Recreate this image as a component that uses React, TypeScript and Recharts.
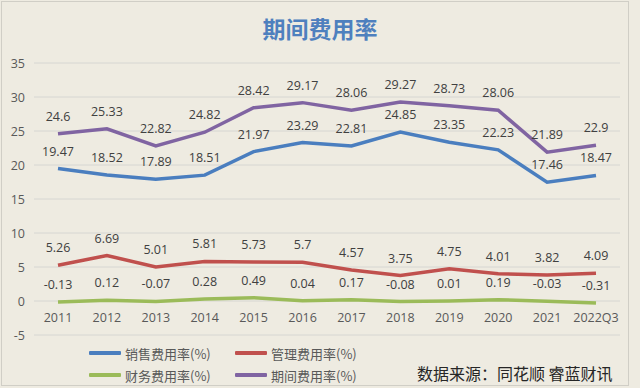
import React from 'react';
import { LineChart, Line, XAxis, YAxis, CartesianGrid, LabelList } from 'recharts';

const categories = ['2011', '2012', '2013', '2014', '2015', '2016', '2017', '2018', '2019', '2020', '2021', '2022Q3'];
const sales = [19.47, 18.52, 17.89, 18.51, 21.97, 23.29, 22.81, 24.85, 23.35, 22.23, 17.46, 18.47];
const admin = [5.26, 6.69, 5.01, 5.81, 5.73, 5.7, 4.57, 3.75, 4.75, 4.01, 3.82, 4.09];
const finance = [-0.13, 0.12, -0.07, 0.28, 0.49, 0.04, 0.17, -0.08, 0.01, 0.19, -0.03, -0.31];
const period = [24.6, 25.33, 22.82, 24.82, 28.42, 29.17, 28.06, 29.27, 28.73, 28.06, 21.89, 22.9];
const yTicks = [-5, 0, 5, 10, 15, 20, 25, 30, 35];

const seriesNames = ['销售费用率(%)', '管理费用率(%)', '财务费用率(%)', '期间费用率(%)'];
const colors = ['#4A7EBF', '#C0504D', '#9BBB59', '#8064A2'];

const data = categories.map((c, i) => ({
  name: c,
  sales: sales[i],
  admin: admin[i],
  finance: finance[i],
  period: period[i],
}));

const keys = ['sales', 'admin', 'finance', 'period'];

const labelFont = "'Open Sans', 'Noto Sans', sans-serif";

const XTick = (props: any) => {
  const { x, y, payload } = props;
  return (
    <text x={x} y={y} dy={-21} textAnchor="middle" fill="#595959" fontSize={12.5} fontFamily={labelFont}>
      {payload.value}
    </text>
  );
};

const YTick = (props: any) => {
  const { x, y, payload } = props;
  return (
    <text x={x} y={y} dy={4.5} textAnchor="end" fill="#595959" fontSize={12.5} fontFamily={labelFont}>
      {payload.value}
    </text>
  );
};

const LegendItem = ({ color, text, left, top }: any) => (
  <div style={{ position: 'absolute', left, top, display: 'flex', alignItems: 'center', height: 18 }}>
    <div style={{ width: 32, height: 3.5, background: color, marginRight: 4, borderRadius: 1 }} />
    <span style={{ fontSize: 13, color: '#595959', fontFamily: "'Noto Sans CJK SC', sans-serif", whiteSpace: 'nowrap' }}>{text}</span>
  </div>
);

export default function App() {
  return (
    <div style={{ position: 'fixed', left: 0, top: 0, width: 640, height: 388, background: '#EEEBE1', overflow: 'hidden' }}>
      <div style={{ position: 'absolute', left: 1, top: 1, width: 628, height: 385, border: '1px solid #D0CEC6', boxSizing: 'border-box' }} />
      <div style={{ position: 'absolute', left: 0, top: 12, width: 640, textAlign: 'center', fontSize: 23, fontWeight: 'bold', color: '#4E80BE', fontFamily: "'Noto Sans CJK SC', sans-serif", lineHeight: '32px' }}>
        期间费用率
      </div>
      <div style={{ position: 'absolute', left: 0, top: 0 }}>
        <LineChart width={640} height={388} data={data} margin={{ top: 63, right: 20, bottom: 33, left: 0 }}>
          <CartesianGrid horizontal vertical={false} stroke="#D6D6D2" strokeWidth={1} />
          <XAxis dataKey="name" axisLine={false} tickLine={false} height={20} tick={<XTick />} padding={{ left: 24, right: 24 }} interval={0} />
          <YAxis domain={[-5, 35]} ticks={yTicks} width={34} axisLine={false} tickLine={false} tickSize={0} tickMargin={9}
            tick={<YTick />} interval={0} />
          {keys.map((k, i) => (
            <Line key={k} type="linear" dataKey={k} stroke={colors[i]} strokeWidth={3.5} dot={false} isAnimationActive={false}>
              <LabelList dataKey={k} position="top" offset={13} fill="#404040" fontSize={12.5} fontFamily={labelFont} />
            </Line>
          ))}
        </LineChart>
      </div>
      <LegendItem color={colors[0]} text={seriesNames[0]} left={89} top={344} />
      <LegendItem color={colors[1]} text={seriesNames[1]} left={235} top={344} />
      <LegendItem color={colors[2]} text={seriesNames[2]} left={89} top={366} />
      <LegendItem color={colors[3]} text={seriesNames[3]} left={235} top={366} />
      <div style={{ position: 'absolute', left: 417, top: 361, fontSize: 16, color: '#262626', fontFamily: "'Noto Sans CJK SC', sans-serif", whiteSpace: 'nowrap', lineHeight: '24px' }}>
        数据来源：同花顺 睿蓝财讯
      </div>
    </div>
  );
}
